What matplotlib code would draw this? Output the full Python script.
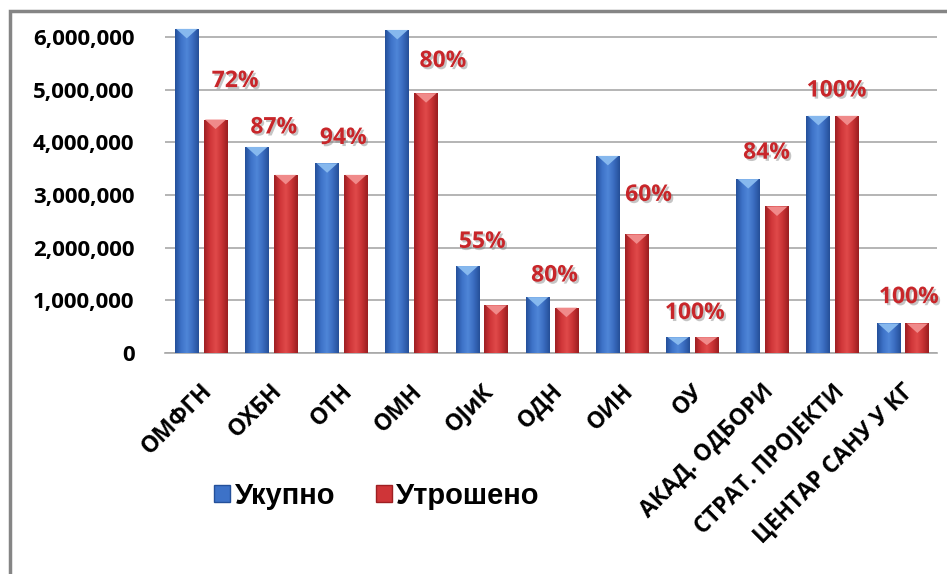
import numpy as np
import matplotlib
matplotlib.use('Agg')
import matplotlib.pyplot as plt
import matplotlib.patheffects as pe
from matplotlib.colors import LinearSegmentedColormap
from matplotlib.patches import Rectangle, Patch

# Chart data
categories = ['ОМФГН', 'ОХБН', 'ОТН', 'ОМН', 'ОЈиК', 'ОДН', 'ОИН', 'ОУ',
              'АКАД. ОДБОРИ', 'СТРАТ. ПРОЈЕКТИ', 'ЦЕНТАР САНУ У КГ']
ukupno = [6150000, 3910000, 3600000, 6130000, 1650000, 1060000, 3740000,
          300000, 3300000, 4500000, 560000]
utroseno = [4430000, 3380000, 3380000, 4930000, 905000, 860000, 2250000,
            300000, 2780000, 4500000, 560000]
pct_labels = ['72%', '87%', '94%', '80%', '55%', '80%', '60%', '100%',
              '84%', '100%', '100%']
yticks = [0, 1000000, 2000000, 3000000, 4000000, 5000000, 6000000]

# where the percentage boxes were placed by hand (category offset, value)
label_dx = [0.5, 0.05, 0.04, 0.46, 0.02, 0.05, 0.39, 0.05, 0.07, 0.07, 0.1]
label_y = [5160000, 4280000, 4080000, 5540000, 2110000, 1470000, 3000000,
           760000, 3800000, 4980000, 1060000]

W, H = 947, 574
fig = plt.figure(figsize=(W / 100, H / 100), dpi=100)
ax = fig.add_axes([165 / W, 1 - 353 / H, (937 - 165) / W, 6.2 * 52.7 / H])

x = np.arange(len(categories))
bw = 0.34
blue_cmap = LinearSegmentedColormap.from_list(
    'b', ['#24509a', '#3d72c8', '#4f86d8', '#3a6cc0', '#254f98'])
red_cmap = LinearSegmentedColormap.from_list(
    'r', ['#9e1f22', '#cf3538', '#e04a4a', '#c83234', '#9a1e20'])
grad = np.linspace(0, 1, 64).reshape(1, -1)

def draw_bars(offset, values, cmap, base, cap):
    bars = ax.bar(x + offset, values, width=bw, color=base, zorder=3)
    for b in bars:
        x0, w, h = b.get_x(), b.get_width(), b.get_height()
        im = ax.imshow(grad, cmap=cmap, extent=[x0, x0 + w, 0, h],
                       aspect='auto', zorder=3.5)
        im.set_clip_path(b)
        d = min(180000, h * 0.5)
        ax.fill([x0 + 0.02, x0 + w - 0.02, x0 + w / 2],
                [h, h, h - d], color=cap, zorder=4, lw=0)
    return bars

draw_bars(-0.19, ukupno, blue_cmap, '#3a6cc0', '#86b8ee')
draw_bars(0.22, utroseno, red_cmap, '#cf3538', '#f08a8a')

ax.set_xlim(-0.5, len(categories) - 0.5)
ax.set_ylim(0, 6200000)
ax.set_aspect('auto')

# gridlines
ax.set_yticks(yticks)
ax.set_yticklabels([f'{v:,}' for v in yticks], fontfamily='Open Sans',
                   fontweight='bold', fontsize=16)
ax.yaxis.grid(True, color='#a8a8a8', linewidth=1.2, zorder=0)
ax.set_axisbelow(True)
ax.tick_params(axis='y', length=0, pad=22)
for s in ['top', 'right', 'left']:
    ax.spines[s].set_visible(False)
ax.spines['bottom'].set_color('#a8a8a8')
ax.spines['bottom'].set_linewidth(1.2)

ax.set_xticks(x)
ax.set_xticklabels(categories, rotation=45, ha='right', rotation_mode='anchor',
                   fontfamily='Open Sans', fontweight='bold', fontsize=16.5)
ax.tick_params(axis='x', length=0, pad=19)

# percentage labels
for i, t in enumerate(pct_labels):
    ax.text(i + label_dx[i], label_y[i], t, ha='center', va='center',
            color='#c8262a', fontfamily='Open Sans', fontweight='bold',
            fontsize=16.5, zorder=6,
            path_effects=[pe.SimplePatchShadow(offset=(1.5, -1.5),
                                               shadow_rgbFace='#808080',
                                               alpha=0.45),
                          pe.Normal()])

# legend
handles = [Patch(facecolor='#3d72c8', edgecolor='#24509a'),
           Patch(facecolor='#cf3538', edgecolor='#9e1f22')]
fig.legend(handles, ['Укупно', 'Утрошено'], loc='center',
           bbox_to_anchor=(377 / W, 1 - 496 / H), ncol=2, frameon=False,
           prop={'family': 'Liberation Sans', 'weight': 'bold', 'size': 21},
           handlelength=0.55, handleheight=0.55, handletextpad=0.15,
           columnspacing=1.4)

# outer chart frame (cut off at right and bottom)
fig.patches.append(Rectangle((9.5 / W, -0.1), 1.2, 0.1 + (H - 11) / H,
                             transform=fig.transFigure, fill=False,
                             edgecolor='#858585', linewidth=2.5))

fig.savefig('out.png', dpi=100)
